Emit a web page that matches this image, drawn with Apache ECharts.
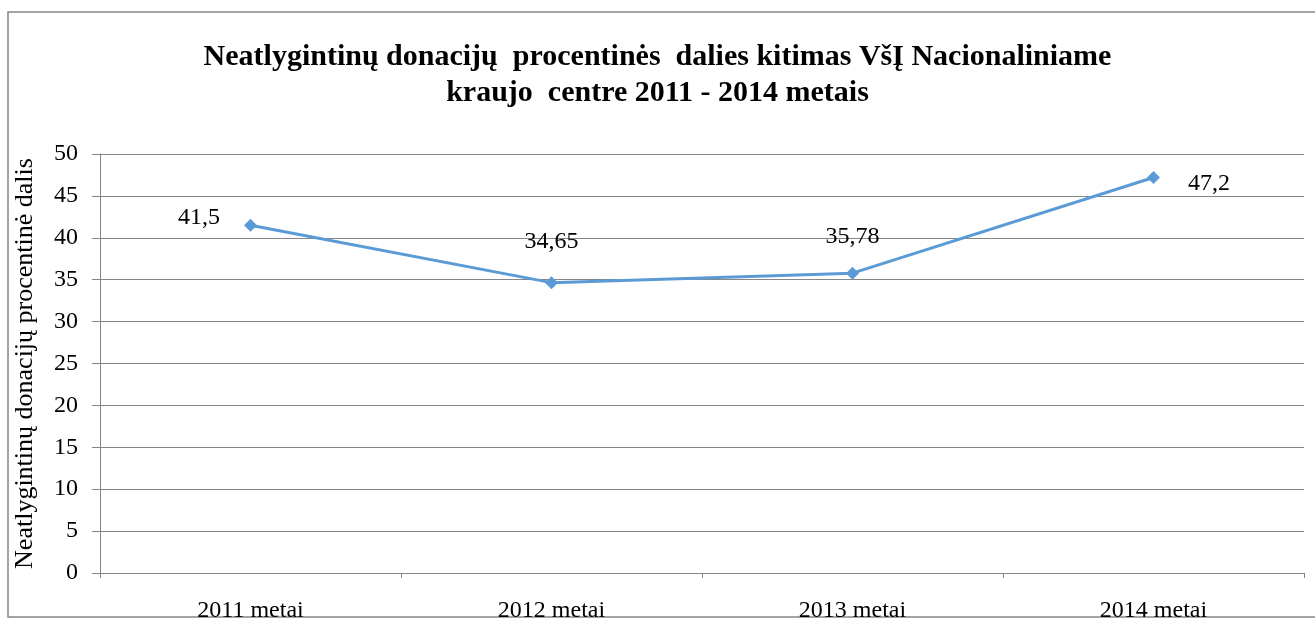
<!DOCTYPE html>
<html>
<head>
<meta charset="utf-8">
<script src="https://cdn.jsdelivr.net/npm/echarts@6/dist/echarts.min.js"></script>
<style>
  body { margin: 0; padding: 0; background: #fff; }
  #chart { width: 1315px; height: 619px; }
</style>
</head>
<body>
<div id="chart"></div>
<script>
var categories = ['2011 metai', '2012 metai', '2013 metai', '2014 metai'];
var values = [41.5, 34.65, 35.78, 47.2];
var labelTexts = ['41,5', '34,65', '35,78', '47,2'];
// where each value label sits relative to its point
var labelPlace = [
  { position: 'left', distance: 24, offset: [0, -8] },
  { position: 'top', distance: 22, offset: [0, 0] },
  { position: 'top', distance: 18, offset: [0, 0] },
  { position: 'right', distance: 28, offset: [0, 6] }
];

var serif = "'Liberation Serif', 'Times New Roman', serif";
var chart = echarts.init(document.getElementById('chart'));

var seriesData = [];
for (var i = 0; i < values.length; i++) {
  seriesData.push({
    value: values[i],
    label: {
      show: true,
      position: labelPlace[i].position,
      distance: labelPlace[i].distance,
      offset: labelPlace[i].offset,
      formatter: labelTexts[i]
    }
  });
}

var option = {
  animation: false,
  backgroundColor: '#fff',
  title: {
    text: 'Neatlygintinų donacijų  procentinės  dalies kitimas VšĮ Nacionaliniame\nkraujo  centre 2011 - 2014 metais',
    left: 'center',
    top: 34,
    textStyle: {
      fontFamily: serif,
      fontWeight: 'bold',
      fontSize: 30,
      lineHeight: 36,
      color: '#000'
    }
  },
  graphic: [{
    type: 'rect',
    shape: { x: 8, y: 12, width: 1330, height: 605 },
    style: { fill: null, stroke: '#868686', lineWidth: 1.5 },
    silent: true
  }],
  grid: { left: 100, right: 11, top: 154, bottom: 46, outerBoundsMode: 'none' },
  xAxis: {
    type: 'category',
    data: categories,
    boundaryGap: true,
    axisLine: { lineStyle: { color: '#868686', width: 1 } },
    axisTick: { show: true, length: 5, lineStyle: { color: '#868686' } },
    axisLabel: { fontFamily: serif, fontSize: 24, color: '#000', margin: 26 }
  },
  yAxis: {
    type: 'value',
    min: 0,
    max: 50,
    interval: 5,
    name: 'Neatlygintinų donacijų procentinė dalis',
    nameLocation: 'middle',
    nameGap: 62,
    nameTextStyle: { fontFamily: serif, fontSize: 26, color: '#000' },
    axisLine: { show: true, lineStyle: { color: '#868686', width: 1 } },
    axisTick: { show: true, length: 8, lineStyle: { color: '#868686' } },
    axisLabel: { fontFamily: serif, fontSize: 24, color: '#000', margin: 22 },
    splitLine: { show: true, lineStyle: { color: '#868686', width: 1 } }
  },
  series: [{
    type: 'line',
    data: seriesData,
    symbol: 'diamond',
    symbolSize: 13,
    itemStyle: { color: '#5B9BD5' },
    lineStyle: { color: '#5B9BD5', width: 3 },
    label: { fontFamily: serif, fontSize: 24, color: '#000' }
  }]
};

chart.setOption(option);
</script>
</body>
</html>
